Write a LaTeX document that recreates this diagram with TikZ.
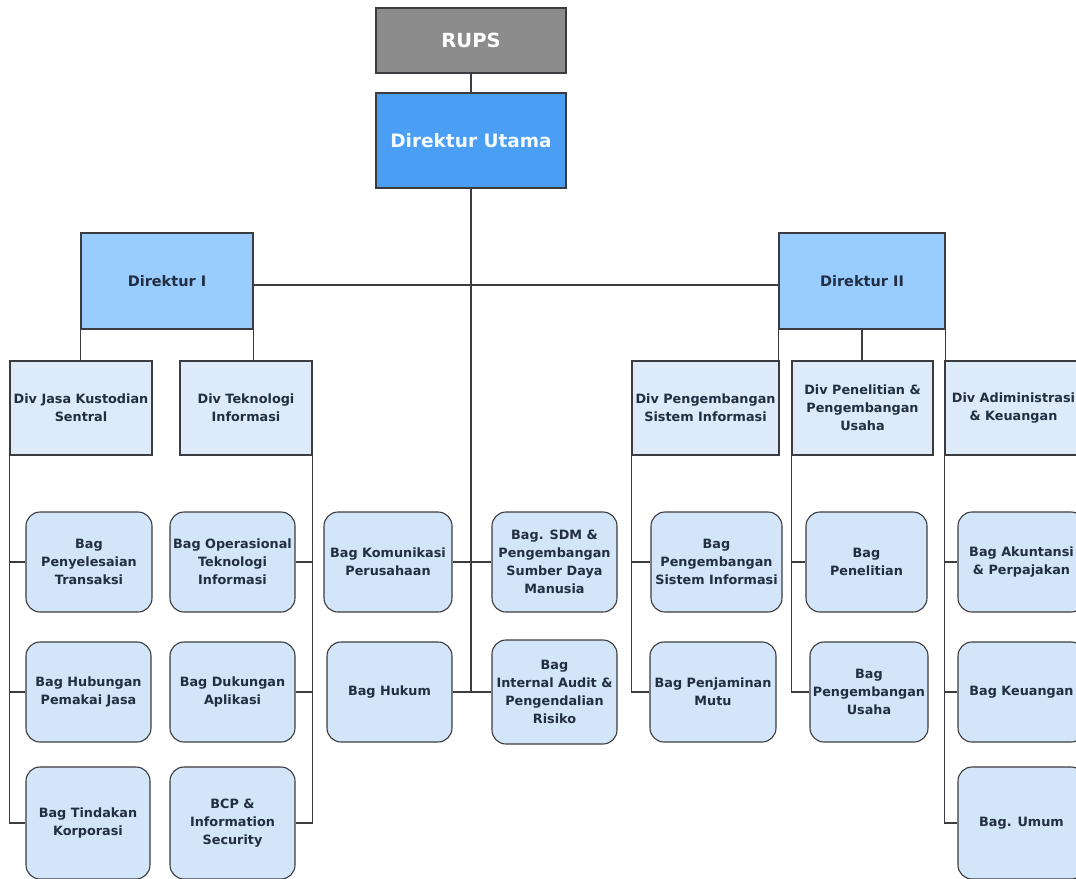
\documentclass[tikz,border=0pt]{standalone}
\usepackage{fontspec}
\setmainfont{DejaVu Sans}
\usepackage{tikz}
\definecolor{rupsfill}{RGB}{140,140,140}
\definecolor{dirutfill}{RGB}{74,159,245}
\definecolor{dirfill}{RGB}{153,204,255}
\definecolor{divfill}{RGB}{220,234,249}
\definecolor{bagfill}{RGB}{211,229,248}
\definecolor{edge}{RGB}{60,60,64}
\definecolor{txt}{RGB}{34,46,66}

\begin{document}
\begin{tikzpicture}[x=1pt, y=-1pt,
    box/.style={draw=edge, line width=1.1pt, inner sep=0pt, align=center, text=txt,
      font=\bfseries\fontsize{12.8}{18}\selectfont},
    topbox/.style={box, minimum width=190pt, text=white},
    dirbox/.style={box, fill=dirfill, minimum height=96pt, font=\bfseries\fontsize{14.5}{17}\selectfont},
    divbox/.style={box, fill=divfill, minimum height=94pt},
    bagbox/.style={box, fill=bagfill, rounded corners=14pt, minimum height=100pt},
    link/.style={draw=edge, line width=1.4pt}]

  \useasboundingbox (0,0) rectangle (1076,878);

  \newcommand\RowA{562};
  \newcommand\RowB{692};
  \newcommand\RowC{823};
  \newcommand\DivY{408};

  % top
  \node[topbox, fill=rupsfill, minimum height=65pt, font=\bfseries\fontsize{19.5}{21}\selectfont] (rups) at (471,40.5) {RUPS};
  \node[topbox, fill=dirutfill, minimum height=95pt, text=white!90!dirfill, font=\bfseries\fontsize{18.5}{21}\selectfont] (dirut) at (471,140.5) {Direktur Utama};
  \node[dirbox, minimum width=172pt] (dir1) at (167,281) {Direktur I};
  \node[dirbox, minimum width=166pt] (dir2) at (862,281) {Direktur II};

  % divisions
  \node[divbox, minimum width=142pt] (divjks) at (81,\DivY) {Div Jasa Kustodian\\Sentral};
  \node[divbox, minimum width=132pt] (divti) at (246,\DivY) {Div Teknologi\\Informasi};
  \node[divbox, minimum width=147pt] (divpsi) at (705.5,\DivY) {Div Pengembangan\\Sistem Informasi};
  \node[divbox, minimum width=141pt] (divppu) at (862.5,\DivY) {Div Penelitian \&\\Pengembangan\\Usaha};
  \node[divbox, minimum width=137pt] (divak) at (1013.5,\DivY) {Div Adiministrasi\\\& Keuangan};

  % bagian
  \node[bagbox, minimum width=126pt] (bagpt) at (89,\RowA) {Bag\\Penyelesaian\\Transaksi};
  \node[bagbox, minimum width=125pt] (baghpj) at (88.5,\RowB) {Bag Hubungan\\Pemakai Jasa};
  \node[bagbox, minimum width=124pt, minimum height=112pt] (bagtk) at (88,\RowC) {Bag Tindakan\\Korporasi};
  \node[bagbox, minimum width=125pt] (bagoti) at (232.5,\RowA) {Bag Operasional\\Teknologi\\Informasi};
  \node[bagbox, minimum width=125pt] (bagda) at (232.5,\RowB) {Bag Dukungan\\Aplikasi};
  \node[bagbox, minimum width=125pt, minimum height=112pt] (bagbcp) at (232.5,\RowC) {BCP \&\\Information\\Security};
  \node[bagbox, minimum width=128pt] (bagkom) at (388,\RowA) {Bag Komunikasi\\Perusahaan};
  \node[bagbox, minimum width=125pt] (baghukum) at (389.5,\RowB) {Bag Hukum};
  \node[bagbox, minimum width=125pt] (bagsdm) at (554.5,\RowA) {Bag. SDM \&\\Pengembangan\\Sumber Daya\\Manusia};
  \node[bagbox, minimum width=125pt, minimum height=104pt] (bagaudit) at (554.5,\RowB) {Bag\\Internal Audit \&\\Pengendalian\\Risiko};
  \node[bagbox, minimum width=131pt] (bagpsi) at (716.5,\RowA) {Bag\\Pengembangan\\Sistem Informasi};
  \node[bagbox, minimum width=126pt] (bagpm) at (713,\RowB) {Bag Penjaminan\\Mutu};
  \node[bagbox, minimum width=121pt] (bagpen) at (866.5,\RowA) {Bag\\Penelitian};
  \node[bagbox, minimum width=118pt] (bagpu) at (869,\RowB) {Bag\\Pengembangan\\Usaha};
  \node[bagbox, minimum width=127pt] (bagakt) at (1021.5,\RowA) {Bag Akuntansi\\\& Perpajakan};
  \node[bagbox, minimum width=127pt] (bagkeu) at (1021.5,\RowB) {Bag Keuangan};
  \node[bagbox, minimum width=127pt, minimum height=112pt] (bagumum) at (1021.5,\RowC) {Bag. Umum};

  % lines
  \draw[link] (rups.south) -- (dirut.north); %% RUPS->Dirut
  \draw[link] (dirut.south) -- (dirut.south |- baghukum.east); %% Dirut->center
  \draw[link] ([yshift=-4pt]dir1.east) -- ([yshift=-4pt]dir2.west); %% Dir I--Dir II
  \draw[link] (bagkom.east) -- (bagsdm.west);
  \draw[link] (baghukum.east) -- (bagaudit.west);

  \draw[link] (dir1.south west) -- (dir1.south west |- divjks.north);
  \draw[link] (dir1.south east) -- (dir1.south east |- divti.north);
  \draw[link] (dir2.south west) -- (dir2.south west |- divpsi.north);
  \draw[link] (dir2.south) -- (dir2.south |- divppu.north);
  \draw[link] (dir2.south east) -- (dir2.south east |- divak.north);

  \draw[link] (divjks.south west) |- (bagpt.west);
  \draw[link] (divjks.south west) |- (baghpj.west);
  \draw[link] (divjks.south west) |- (bagtk.west);
  \draw[link] (divti.south east) |- (bagoti.east);
  \draw[link] (divti.south east) |- (bagda.east);
  \draw[link] (divti.south east) |- (bagbcp.east);
  \draw[link] (divpsi.south west) |- (bagpsi.west);
  \draw[link] (divpsi.south west) |- (bagpm.west);
  \draw[link] (divppu.south west) |- (bagpen.west);
  \draw[link] (divppu.south west) |- (bagpu.west);
  \draw[link] (divak.south west) |- (bagakt.west);
  \draw[link] (divak.south west) |- (bagkeu.west);
  \draw[link] (divak.south west) |- (bagumum.west);
\end{tikzpicture}
\end{document}
